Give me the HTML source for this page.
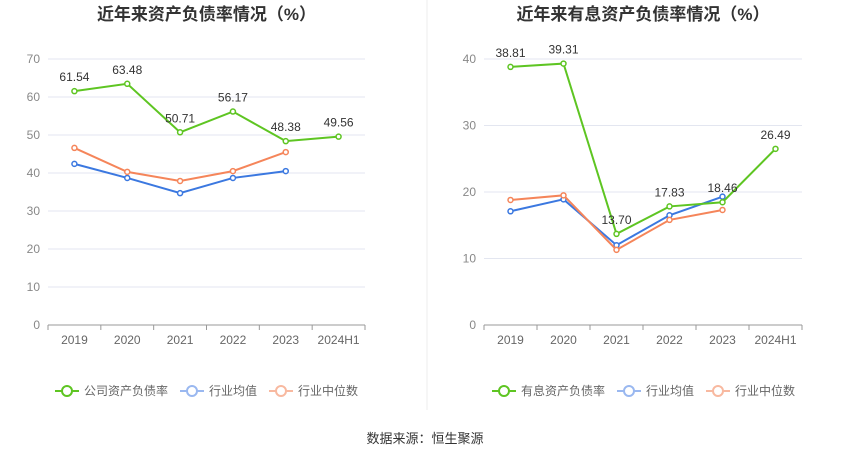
<!DOCTYPE html>
<html><head><meta charset="utf-8"><style>
body{margin:0;background:#fff;}
svg text{font-family:"Liberation Sans","Noto Sans CJK SC",sans-serif;}
</style></head><body>
<svg id="c" width="850" height="459" viewBox="0 0 850 459" xmlns="http://www.w3.org/2000/svg">
<line x1="427" y1="0" x2="427" y2="410" stroke="#eee" stroke-width="1"/>
<text x="425" y="443" font-size="13" fill="#333" text-anchor="middle">数据来源：恒生聚源</text>
</svg>
<script>
const categories=["2019","2020","2021","2022","2023","2024H1"];
const leftMain=[61.54,63.48,50.71,56.17,48.38,49.56];
const leftAvg=[42.4,38.7,34.7,38.7,40.5];
const leftMed=[46.6,40.3,37.9,40.5,45.5];
const leftTicks=[0,10,20,30,40,50,60,70];
const rightMain=[38.81,39.31,13.70,17.83,18.46,26.49];
const rightAvg=[17.1,18.9,12.0,16.5,19.3];
const rightMed=[18.8,19.5,11.3,15.8,17.3];
const rightTicks=[0,10,20,30,40];
const NS="http://www.w3.org/2000/svg";
const svg=document.getElementById('c');
function mk(t,a,p){const e=document.createElementNS(NS,t);for(const k in a)e.setAttribute(k,a[k]);(p||svg).appendChild(e);return e;}
function chart(o){
 const g=mk('g',{});
 
 
 const x0=o.x0,x1=o.x1,yb=325,yt=59,max=o.ticks[o.ticks.length-1];
 const band=(x1-x0)/categories.length;
 const X=i=>x0+band*(i+0.5), Y=v=>yb-(v/max)*(yb-yt);
 const t=mk('text',{x:(x0+x1)/2,y:20,'font-size':17,'font-weight':'bold',fill:'#333','text-anchor':'middle'},g);
 t.textContent=o.title;
 
 
 o.ticks.forEach(v=>{
  if(v>0){const l=mk('line',{x1:x0,x2:x1,y1:Y(v),y2:Y(v),stroke:'#e3e6f0'},g);
  
  }
  const tx=mk('text',{x:x0-8,y:Y(v)+4,'font-size':12,fill:'#888','text-anchor':'end'},g);
  tx.textContent=v;
  
  
 });
 const ax=mk('line',{x1:x0,x2:x1,y1:yb,y2:yb,stroke:'#999'},g);
 
 
 categories.forEach((c,i)=>{
  mk('line',{x1:x0+band*i,x2:x0+band*i,y1:yb,y2:yb+5,stroke:'#999'},g);
  const tx=mk('text',{x:X(i),y:yb+19,'font-size':12,fill:'#666','text-anchor':'middle'},g);
  tx.textContent=c;
  
  
 });
 mk('line',{x1:x1,x2:x1,y1:yb,y2:yb+5,stroke:'#999'},g);
 function series(d,col,nm,labels){
  const p=mk('polyline',{points:d.map((v,i)=>X(i)+','+Y(v)).join(' '),fill:'none',stroke:col,'stroke-width':2},g);
  
  
  d.forEach((v,i)=>{
   const c=mk('circle',{cx:X(i),cy:Y(v),r:2.5,fill:'#fff',stroke:col,'stroke-width':1.5},g);
   
   
   if(labels){const tx=mk('text',{x:X(i),y:Y(v)-10,'font-size':12,fill:'#333','text-anchor':'middle'},g);
    tx.textContent=v.toFixed(2);
    
    }
  });
 }
 series(o.avg,'#3b78e0','industry-average');
 series(o.med,'#f5855a','industry-median');
 series(o.main,'#5ec522','main',true);
 const lg=[[o.mainName,'#5ec522'],['行业均值','#9ab8f0'],['行业中位数','#f8b9a0']];
 let lx=o.lx;
 lg.forEach(([n,c])=>{
  const e=mk('g',{},g);
  
  
  mk('line',{x1:lx,x2:lx+24,y1:391,y2:391,stroke:c,'stroke-width':2},e);
  mk('circle',{cx:lx+12,cy:391,r:5,fill:'#fff',stroke:c,'stroke-width':2},e);
  const tx=mk('text',{x:lx+29,y:395,'font-size':12,fill:'#666'},e);
  tx.textContent=n;
  lx+=29+n.length*12+12;
 });
}
chart({name:'left-chart',x0:48,x1:365,ticks:leftTicks,main:leftMain,avg:leftAvg,med:leftMed,title:'近年来资产负债率情况（%）',mainName:'公司资产负债率',lx:55});
chart({name:'right-chart',x0:484,x1:802,ticks:rightTicks,main:rightMain,avg:rightAvg,med:rightMed,title:'近年来有息资产负债率情况（%）',mainName:'有息资产负债率',lx:492});
</script>
</body></html>
